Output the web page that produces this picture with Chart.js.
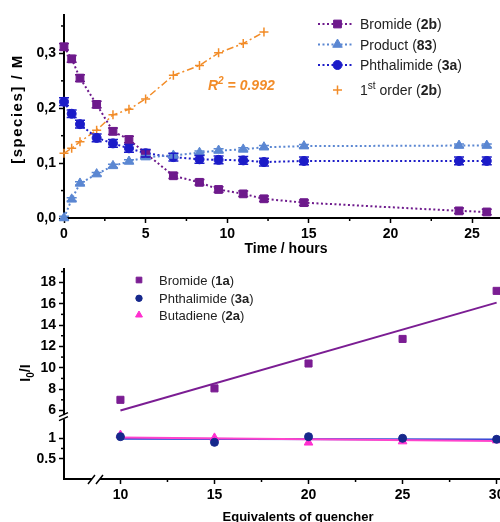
<!DOCTYPE html>
<html>
<head>
<meta charset="utf-8">
<script src="https://cdn.jsdelivr.net/npm/chart.js@4.4.1/dist/chart.umd.min.js"></script>
<style>
  html, body { margin: 0; padding: 0; background: #fff; width: 500px; height: 522px; overflow: hidden; }
  canvas { position: absolute; left: 0; }
  #kinetics { top: 0; }
  #quench { top: 258px; }
</style>
</head>
<body>
<canvas id="kinetics" width="520" height="262"></canvas>
<canvas id="quench" width="540" height="264"></canvas>
<script>
// ---- top panel: concentration vs time ----
const time_h = [0, 0.47, 0.98, 2.0, 3.0, 3.98, 5.0, 6.7, 8.3, 9.47, 10.98, 12.25, 14.7, 24.2, 25.9];
const bromide_2b = [0.312, 0.29, 0.255, 0.207, 0.158, 0.143, 0.118, 0.077, 0.065, 0.052, 0.044, 0.035, 0.028, 0.013, 0.011];
const bromide_2b_err = [0.006, 0.006, 0.006, 0.006, 0.006, 0.006, 0.006, 0.005, 0.005, 0.005, 0.005, 0.005, 0.005, 0.005, 0.005];
const product_83 = [0, 0.034, 0.063, 0.080, 0.095, 0.103, 0.111, 0.114, 0.119, 0.123, 0.125, 0.129, 0.131, 0.132, 0.132];
const product_83_err = [0.003, 0.003, 0.003, 0.003, 0.003, 0.003, 0.003, 0.003, 0.003, 0.003, 0.003, 0.003, 0.003, 0.003, 0.003];
const phthalimide_3a = [0.212, 0.19, 0.171, 0.146, 0.136, 0.127, 0.118, 0.111, 0.107, 0.106, 0.105, 0.102, 0.104, 0.104, 0.104];
const phthalimide_3a_err = [0.007, 0.007, 0.007, 0.007, 0.007, 0.007, 0.007, 0.007, 0.007, 0.007, 0.007, 0.007, 0.007, 0.007, 0.007];
const first_order_t = [0, 0.47, 0.98, 2.0, 3.0, 3.98, 5.0, 6.7, 8.3, 9.47, 10.98, 12.25];
const first_order_2b = [0.118, 0.127, 0.139, 0.160, 0.188, 0.198, 0.217, 0.260, 0.278, 0.301, 0.318, 0.339];
const time_ticks = [0, 5, 10, 15, 20, 25];
const time_minor = [2.5, 7.5, 12.5, 17.5, 22.5];
const conc_ticks = [0, 0.1, 0.2, 0.3];
const conc_minor = [0.05, 0.15, 0.25, 0.35];

// ---- bottom panel: Stern-Volmer quenching ----
const equiv = [10, 15, 20, 25, 30];
const bromide_1a = [7.0, 8.07, 10.4, 12.7, 17.2];
const phthalimide_q = [1.04, 0.9, 1.04, 1.0, 0.975];
const butadiene_2a = [1.08, 1.01, 0.895, 0.925, 0.95];
const fit_x = [10, 30];
const bromide_fit = [6.0, 16.1];
const phthalimide_fit = [0.99, 0.97];
const butadiene_fit = [1.02, 0.935];
const equiv_ticks = [10, 15, 20, 25, 30];
const equiv_minor = [12.5, 17.5, 22.5, 27.5];
const upper_ticks = [6, 8, 10, 12, 14, 16, 18];
const upper_minor = [7, 9, 11, 13, 15, 17, 19];
const lower_ticks = [0.5, 1];
const lower_minor = [0.75];

const FONT = '"Liberation Sans", Arial, Helvetica, sans-serif';
Chart.defaults.font.family = FONT;
Chart.defaults.color = '#000';

const PURPLE = '#6e1a8c';
const BLUE = '#1c1cc8';
const LIGHTBLUE = '#5b87d2';
const ORANGE = '#f28c28';
const PURPLE2 = '#7b1d93';
const NAVY = '#16288c';
const MAGENTA = '#ff2fcf';

function pts(xs, ys) {
	return xs.map((x, i) => ({ x: x, y: ys[i] }));
}

function fixedTicks(values) {
	return (scale) => {
		scale.ticks = values.map((v) => ({ value: v }));
	};
}

function axisStyle(extra) {
	return Object.assign({
		type: 'linear',
		grid: { drawOnChartArea: false, tickLength: 5, tickWidth: 1.5, tickColor: '#000' },
		border: { color: '#000', width: 2 },
	}, extra);
}

function tickOpts(cb) {
	return { font: { size: 14, weight: 'bold' }, padding: 3, autoSkip: false, maxRotation: 0, callback: cb };
}

// draws text made of runs: [text, style] with style n / b / sup / sub / bsub / bi / bisup
function drawRuns(ctx, x, y, runs, size, measureOnly) {
	let w = 0;
	runs.forEach(([t, style]) => {
		let fs = size, dy = 0, weight = 'normal', it = '';
		if (style === 'b' || style === 'bsub' || style === 'bi' || style === 'bisup') weight = 'bold';
		if (style === 'bi' || style === 'bisup') it = 'italic ';
		if (style === 'sup' || style === 'bisup') { fs = size * 0.72; dy = -size * 0.42; }
		if (style === 'sub' || style === 'bsub') { fs = size * 0.72; dy = size * 0.25; }
		ctx.font = `${it}${weight} ${fs}px ${FONT}`;
		if (!measureOnly) ctx.fillText(t, x + w, y + dy);
		w += ctx.measureText(t).width;
	});
	return w;
}

const errorBars = {
	id: 'errorBars',
	afterDatasetsDraw(chart) {
		const ctx = chart.ctx;
		chart.data.datasets.forEach((ds, i) => {
			if (!ds.errors) return;
			const meta = chart.getDatasetMeta(i);
			const ys = chart.scales[meta.yAxisID];
			ctx.save();
			ctx.strokeStyle = ds.borderColor;
			ctx.lineWidth = 1.5;
			meta.data.forEach((p, j) => {
				const v = ds.data[j].y, e = ds.errors[j];
				const y1 = ys.getPixelForValue(v + e), y2 = ys.getPixelForValue(v - e);
				ctx.beginPath();
				ctx.moveTo(p.x, y1); ctx.lineTo(p.x, y2);
				ctx.moveTo(p.x - 5, y1); ctx.lineTo(p.x + 5, y1);
				ctx.moveTo(p.x - 5, y2); ctx.lineTo(p.x + 5, y2);
				ctx.stroke();
			});
			ctx.restore();
		});
	},
};

function minorTicks(spec) {
	return {
		id: 'minorTicks',
		afterDraw(chart) {
			const ctx = chart.ctx;
			ctx.save();
			ctx.strokeStyle = '#000';
			ctx.lineWidth = 1.5;
			spec.forEach(([id, values]) => {
				const s = chart.scales[id];
				values.forEach((v) => {
					if (v < s.min || v > s.max) return;
					const p = s.getPixelForValue(v);
					ctx.beginPath();
					if (s.isHorizontal()) { ctx.moveTo(p, s.top); ctx.lineTo(p, s.top + 3); }
					else { ctx.moveTo(s.right, p); ctx.lineTo(s.right - 3, p); }
					ctx.stroke();
				});
			});
			ctx.restore();
		},
	};
}

const kineticsAnnot = {
	id: 'kineticsAnnot',
	afterDraw(chart) {
		const ctx = chart.ctx;
		ctx.save();
		ctx.fillStyle = '#000';
		ctx.textBaseline = 'middle';
		ctx.textAlign = 'center';
		ctx.font = `bold 14px ${FONT}`;
		ctx.fillText('Time / hours', 286, 249);
		ctx.save();
		ctx.translate(18, 109);
		ctx.rotate(-Math.PI / 2);
		ctx.font = `bold 15px ${FONT}`;
		ctx.letterSpacing = '1.5px';
		ctx.fillText('[species] / M', 0, 0);
		ctx.restore();

		ctx.textAlign = 'left';
		ctx.textBaseline = 'alphabetic';
		ctx.fillStyle = ORANGE;
		drawRuns(ctx, 208, 90, [['R', 'bi'], ['2', 'bisup'], [' = 0.992', 'bi']], 14);

		const legend = [
			[0, [['Bromide (', 'n'], ['2b', 'b'], [')', 'n']], 24],
			[1, [['Product (', 'n'], ['83', 'b'], [')', 'n']], 44.5],
			[2, [['Phthalimide (', 'n'], ['3a', 'b'], [')', 'n']], 65],
			[3, [['1', 'n'], ['st', 'sup'], [' order (', 'n'], ['2b', 'b'], [')', 'n']], 90],
		];
		legend.forEach(([i, runs, y]) => {
			const ds = chart.data.datasets[i];
			if (i < 3) {
				ctx.save();
				ctx.strokeStyle = ds.borderColor;
				ctx.lineWidth = ds.borderWidth;
				ctx.setLineDash(ds.borderDash);
				ctx.beginPath();
				ctx.moveTo(318, y); ctx.lineTo(353, y);
				ctx.stroke();
				ctx.restore();
			}
			ctx.fillStyle = ds.backgroundColor;
			ctx.strokeStyle = ds.borderColor;
			ctx.lineWidth = ds.pointBorderWidth;
			Chart.helpers.drawPoint(ctx, { pointStyle: ds.pointStyle, radius: ds.pointRadius, rotation: 0, borderWidth: ds.pointBorderWidth }, 337.5, y);
			ctx.fillStyle = '#222';
			drawRuns(ctx, 360, y + 5, runs, 14);
		});
		ctx.restore();
	},
};

new Chart(document.getElementById('kinetics'), {
	type: 'line',
	data: {
		datasets: [
			{
				data: pts(time_h, bromide_2b), errors: bromide_2b_err,
				borderColor: PURPLE, backgroundColor: PURPLE, pointStyle: 'rect', pointRadius: 5.5,
				pointBorderWidth: 1, borderWidth: 2, borderDash: [2, 2.5], clip: false,
			},
			{
				data: pts(time_h, product_83), errors: product_83_err,
				borderColor: LIGHTBLUE, backgroundColor: LIGHTBLUE, pointStyle: 'triangle', pointRadius: 5.5,
				pointBorderWidth: 1, borderWidth: 2, borderDash: [2, 2.5], clip: false,
			},
			{
				data: pts(time_h, phthalimide_3a), errors: phthalimide_3a_err,
				borderColor: BLUE, backgroundColor: BLUE, pointStyle: 'circle', pointRadius: 4.5,
				pointBorderWidth: 1, borderWidth: 2, borderDash: [2, 2.5], clip: false,
			},
			{
				data: pts(first_order_t, first_order_2b),
				borderColor: ORANGE, backgroundColor: ORANGE, pointStyle: 'cross', pointRadius: 4.5,
				pointBorderWidth: 1.5, borderWidth: 1.5, borderDash: [7, 3, 2, 3], clip: false,
			},
		],
	},
	options: {
		responsive: false,
		animation: false,
		events: [],
		layout: { padding: { top: 15, right: 12, left: 0, bottom: 0 } },
		plugins: { legend: { display: false }, tooltip: { enabled: false } },
		scales: {
			x: axisStyle({
				min: 0, max: 27.2,
				afterFit: (s) => { s.height = 44; },
				afterBuildTicks: fixedTicks(time_ticks),
				ticks: tickOpts((v) => String(v)),
			}),
			y: axisStyle({
				min: 0, max: 0.37,
				afterFit: (s) => { s.width = 64; },
				afterBuildTicks: fixedTicks(conc_ticks),
				ticks: tickOpts((v) => v.toFixed(1).replace('.', ',')),
			}),
		},
	},
	plugins: [errorBars, minorTicks([['x', time_minor], ['y', conc_minor]]), kineticsAnnot],
});

const quenchAnnot = {
	id: 'quenchAnnot',
	afterDraw(chart) {
		const ctx = chart.ctx;
		const xs = chart.scales.x, yTop = chart.scales.yTop;
		ctx.save();
		// axis breaks
		const by = yTop.bottom, ax = xs.left;
		ctx.fillStyle = '#fff';
		ctx.fillRect(ax - 2, by - 2, 4, 4);
		const bx = xs.getPixelForValue(8.7), ay = xs.top;
		ctx.fillRect(bx - 4, ay - 2, 8, 4);
		ctx.strokeStyle = '#000';
		ctx.lineWidth = 1.5;
		ctx.beginPath();
		ctx.moveTo(ax - 5, by - 0.5); ctx.lineTo(ax + 4, by - 4.5);
		ctx.moveTo(ax - 5, by + 3.5); ctx.lineTo(ax + 4, by - 0.5);
		ctx.moveTo(bx - 8, ay + 5); ctx.lineTo(bx - 1, ay - 4);
		ctx.moveTo(bx, ay + 5); ctx.lineTo(bx + 7, ay - 4);
		ctx.stroke();

		// titles
		ctx.fillStyle = '#000';
		ctx.textBaseline = 'middle';
		ctx.textAlign = 'center';
		ctx.font = `bold 13px ${FONT}`;
		ctx.fillText('Equivalents of quencher', 298, 259);
		ctx.save();
		ctx.translate(25, 115);
		ctx.rotate(-Math.PI / 2);
		ctx.textAlign = 'left';
		ctx.textBaseline = 'alphabetic';
		const yRuns = [['I', 'b'], ['0', 'bsub'], ['/I', 'b']];
		const w = drawRuns(ctx, 0, 0, yRuns, 14, true);
		drawRuns(ctx, -w / 2, 5, yRuns, 14);
		ctx.restore();

		// legend
		const legend = [
			[0, [['Bromide (', 'n'], ['1a', 'b'], [')', 'n']], 22],
			[1, [['Phthalimide (', 'n'], ['3a', 'b'], [')', 'n']], 40.3],
			[2, [['Butadiene (', 'n'], ['2a', 'b'], [')', 'n']], 57],
		];
		ctx.textAlign = 'left';
		ctx.textBaseline = 'alphabetic';
		legend.forEach(([i, runs, y]) => {
			const ds = chart.data.datasets[i];
			ctx.fillStyle = ds.backgroundColor;
			ctx.strokeStyle = ds.borderColor;
			ctx.lineWidth = 1;
			Chart.helpers.drawPoint(ctx, { pointStyle: ds.pointStyle, radius: ds.pointRadius * 0.8, rotation: 0, borderWidth: 1 }, 139, y);
			ctx.fillStyle = '#222';
			drawRuns(ctx, 159, y + 4.7, runs, 13);
		});
		ctx.restore();
	},
};

new Chart(document.getElementById('quench'), {
	type: 'line',
	data: {
		datasets: [
			{
				data: pts(equiv, bromide_1a), yAxisID: 'yTop', showLine: false,
				borderColor: PURPLE2, backgroundColor: PURPLE2, pointStyle: 'rect', pointRadius: 5, pointBorderWidth: 1, clip: false,
			},
			{
				data: pts(equiv, phthalimide_q), yAxisID: 'yLow', showLine: false,
				borderColor: NAVY, backgroundColor: NAVY, pointStyle: 'circle', pointRadius: 4, pointBorderWidth: 1, clip: false,
			},
			{
				data: pts(equiv, butadiene_2a), yAxisID: 'yLow', showLine: false,
				borderColor: MAGENTA, backgroundColor: MAGENTA, pointStyle: 'triangle', pointRadius: 5, pointBorderWidth: 1, clip: false,
			},
			{ data: pts(fit_x, butadiene_fit), yAxisID: 'yLow', borderColor: '#ff44cc', borderWidth: 2, pointRadius: 0 },
			{ data: pts(fit_x, phthalimide_fit), yAxisID: 'yLow', borderColor: '#2d48d6', borderWidth: 2, pointRadius: 0 },
			{ data: pts(fit_x, bromide_fit), yAxisID: 'yTop', borderColor: PURPLE2, borderWidth: 2, pointRadius: 0 },
		],
	},
	options: {
		responsive: false,
		animation: false,
		events: [],
		layout: { padding: { top: 10, right: 8, left: 0, bottom: 0 } },
		plugins: { legend: { display: false }, tooltip: { enabled: false } },
		scales: {
			x: axisStyle({
				min: 7, max: 31.88,
				afterFit: (s) => { s.height = 43; },
				afterBuildTicks: fixedTicks(equiv_ticks),
				ticks: tickOpts((v) => String(v)),
			}),
			// stacked scales: the first one listed ends up at the bottom
			yLow: axisStyle({
				position: 'left', stack: 'q', stackWeight: 62.3,
				min: 0, max: 1.52,
				afterFit: (s) => { s.width = 64; },
				afterBuildTicks: fixedTicks(lower_ticks),
				ticks: tickOpts((v) => String(v)),
			}),
			yTop: axisStyle({
				position: 'left', stack: 'q', stackWeight: 148.7,
				min: 5.38, max: 19.21,
				afterFit: (s) => { s.width = 64; },
				afterBuildTicks: fixedTicks(upper_ticks),
				ticks: tickOpts((v) => String(v)),
			}),
		},
	},
	plugins: [minorTicks([['x', equiv_minor], ['yTop', upper_minor], ['yLow', lower_minor]]), quenchAnnot],
});
</script>
</body>
</html>
